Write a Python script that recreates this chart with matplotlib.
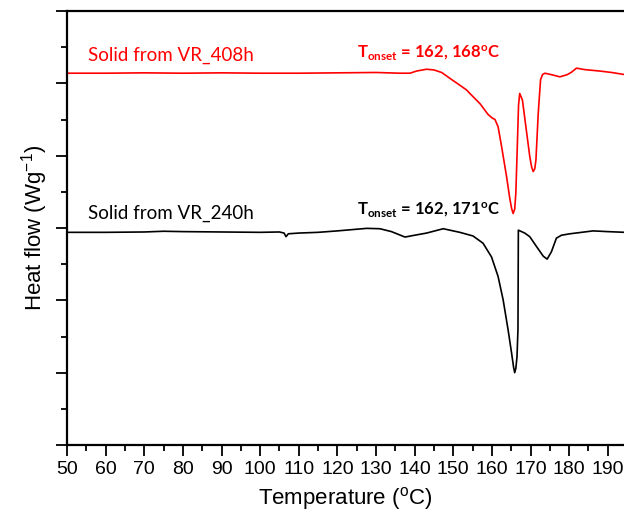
import numpy as np
import matplotlib.pyplot as plt
from matplotlib.ticker import MultipleLocator

# DSC traces (temperature in degC, heat flow in arbitrary offset units)
temp_408 = [50, 60, 70, 80, 90, 100, 110, 120, 130, 136.2, 138.8, 140.5, 143.1,
            145, 147.0, 149.1, 151, 153.4, 154.3, 156.9, 159.0, 160.1, 160.8, 161.6,
            162.5, 163.8, 164.6, 165.1, 165.5, 165.9, 166.2, 166.6, 166.9, 167.2,
            167.9, 168.8, 169.8, 170.3, 170.7, 171.1, 171.4, 172.0, 172.6, 173.1,
            173.7, 175.4, 177.6, 179.5, 180.5, 181.9, 184, 187.9, 191, 194.5]
flow_408 = [5.14, 5.14, 5.145, 5.14, 5.145, 5.14, 5.14, 5.145, 5.15, 5.14, 5.14,
            5.17, 5.195, 5.185, 5.15, 5.07, 5.00, 4.91, 4.86, 4.72, 4.57, 4.52, 4.50,
            4.40, 4.13, 3.71, 3.42, 3.27, 3.20, 3.26, 3.48, 4.17, 4.70, 4.86, 4.77,
            4.40, 3.99, 3.84, 3.78, 3.82, 3.94, 4.59, 5.05, 5.12, 5.14, 5.12, 5.09,
            5.12, 5.15, 5.21, 5.19, 5.17, 5.15, 5.12]

temp_240 = [50, 60, 70, 75, 80, 90, 100, 105, 106.2, 106.7, 107.3, 110, 115, 120,
            127.6, 131, 134, 137.5, 140, 143.1, 147.4, 151.7, 155.1, 157.7, 159.9,
            161.6, 162.9, 164.2, 165.1, 165.6, 165.9, 166.2, 166.5, 166.75, 166.85,
            168.5, 169.8, 171.6, 173.3, 174.3, 175.4, 176.7, 178.0, 180.2, 186.2,
            190, 194.5]
flow_240 = [2.94, 2.94, 2.945, 2.955, 2.95, 2.945, 2.94, 2.945, 2.93, 2.88, 2.92,
            2.93, 2.94, 2.96, 2.995, 2.99, 2.95, 2.875, 2.90, 2.93, 2.99, 2.94, 2.89,
            2.79, 2.60, 2.33, 2.01, 1.59, 1.27, 1.08, 1.00, 1.06, 1.22, 1.60, 2.97,
            2.93, 2.88, 2.74, 2.61, 2.57, 2.67, 2.86, 2.90, 2.92, 2.96, 2.95, 2.94]

x_ticks = list(range(50, 200, 10))

plt.rcParams['mathtext.fontset'] = 'custom'
plt.rcParams['mathtext.rm'] = 'Lato'
plt.rcParams['mathtext.bf'] = 'Lato:bold'

fig = plt.figure(figsize=(6.24, 5.14), dpi=100)
ax = fig.add_axes([67 / 624, 69 / 514, 1 - 67 / 624, 434 / 514])

ax.plot(temp_408, flow_408, color='#ff0000', lw=1.2)
ax.plot(temp_240, flow_240, color='black', lw=1.2)

ax.set_xlim(50, 194.2)
ax.set_ylim(0, 6)
ax.set_xticks(x_ticks)
ax.xaxis.set_minor_locator(MultipleLocator(5))
ax.yaxis.set_major_locator(MultipleLocator(1))
ax.yaxis.set_minor_locator(MultipleLocator(0.5))
ax.set_yticklabels([])
ax.tick_params(which='major', direction='out', length=8, width=1.3,
               labelsize=14, top=False, right=False)
ax.tick_params(which='minor', direction='out', length=4, width=1.3,
               top=False, right=False)
for lab in ax.get_xticklabels():
    lab.set_family('Liberation Sans')
for side in ('left', 'bottom', 'top'):
    ax.spines[side].set_linewidth(1.6)
ax.spines['right'].set_visible(False)

ax.set_xlabel('Temperature ($\\mathregular{^o}$C)', family='Liberation Sans',
              fontsize=16, labelpad=5)
ax.set_ylabel('Heat flow (Wg$\\mathregular{^{-1}}$)', family='Liberation Sans',
              fontsize=16, labelpad=1)

ax.text(55.5, 5.38, 'Solid from VR_408h', color='#ff0000', family='Lato', fontsize=13.5,
        va='center')
ax.text(55.5, 3.2, 'Solid from VR_240h', color='black', family='Lato', fontsize=13.5,
        va='center')
ax.text(125, 5.42, r'$\mathbf{T_{onset}}$ = 162, 168$\mathbf{^o}$C', color='#ff0000',
        family='Lato', fontweight='bold', fontsize=12, va='center')
ax.text(125, 3.25, r'$\mathbf{T_{onset}}$ = 162, 171$\mathbf{^o}$C', color='black',
        family='Lato', fontweight='bold', fontsize=12, va='center')

fig.savefig('out.png', dpi=100)
